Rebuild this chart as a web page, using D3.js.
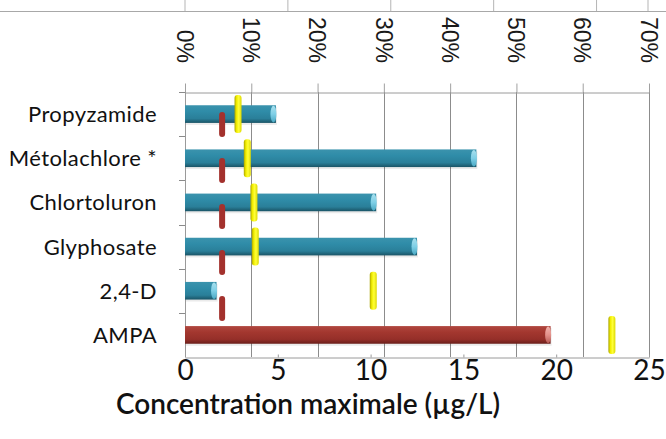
<!DOCTYPE html>
<html>
<head>
<meta charset="utf-8">
<script src="https://cdn.jsdelivr.net/npm/d3@7"></script>
<style>
  html, body { margin: 0; padding: 0; background: #fff; }
  svg { display: block; }
</style>
</head>
<body>
<svg id="chart" width="666" height="439"></svg>
<script>
// Pesticides: maximum concentration (µg/L, bottom axis) and percentage (top axis)
const categories = ["Propyzamide", "Métolachlore *", "Chlortoluron", "Glyphosate", "2,4-D", "AMPA"];
const concMax = [4.9, 15.7, 10.3, 12.5, 1.7, 19.7];
const kinds = ["molecule", "molecule", "molecule", "molecule", "molecule", "metabolite"];
const percent = [8.0, 9.4, 10.4, 10.6, 28.4, 64.4];
const limitValue = 2;
const concTicks = [0, 5, 10, 15, 20, 25];
const percentTicks = [0, 10, 20, 30, 40, 50, 60, 70];

const svg = d3.select("#chart");
const W = 666, H = 439;
const plot = { left: 185, right: 649, top: 92, bottom: 357 };

const x = d3.scaleLinear().domain([0, 25]).range([plot.left, plot.right]);
const xp = d3.scaleLinear().domain([0, 70]).range([plot.left, plot.right]);
const y = d3.scaleBand().domain(categories).range([plot.top, plot.bottom]);
const barH = y.bandwidth() * 0.4;
const mid = c => y(c) + y.bandwidth() / 2;

// gradients
const defs = svg.append("defs");
function vGrad(id, stops) {
  const g = defs.append("linearGradient").attr("id", id)
    .attr("x1", 0).attr("y1", 0).attr("x2", 0).attr("y2", 1);
  stops.forEach(([o, c]) => g.append("stop").attr("offset", o).attr("stop-color", c));
}
function hGrad(id, stops) {
  const g = defs.append("linearGradient").attr("id", id)
    .attr("x1", 0).attr("y1", 0).attr("x2", 1).attr("y2", 0);
  stops.forEach(([o, c]) => g.append("stop").attr("offset", o).attr("stop-color", c));
}
vGrad("tealBody", [[0, "#3b93ad"], [0.35, "#2f8ca8"], [0.75, "#2a7f99"], [1, "#1a5466"]]);
vGrad("tealCap", [[0, "#a8e0ee"], [0.5, "#7fcfe6"], [1, "#4aa9c4"]]);
vGrad("redBody", [[0, "#b0473f"], [0.35, "#a3372f"], [0.75, "#952f29"], [1, "#6a1e1a"]]);
vGrad("redCap", [[0, "#f2b3ad"], [0.5, "#e3918b"], [1, "#b85a54"]]);
hGrad("yellowMark", [[0, "#a9a400"], [0.3, "#f2ee00"], [0.6, "#ffff3a"], [1, "#dcd800"]]);

// fragment of frame at the top edge
const frag = d3.scaleLinear().domain([0, 4.5]).range([plot.left, 648]);
svg.append("line").attr("x1", 0).attr("x2", W).attr("y1", 11.5).attr("y2", 11.5)
  .attr("stroke", "#a8a8a8").attr("stroke-width", 1.2);
svg.append("g").selectAll("line").data([0, 1, 2, 3, 4, 4.5]).join("line")
  .attr("x1", d => frag(d)).attr("x2", d => frag(d)).attr("y1", 0).attr("y2", 11)
  .attr("stroke", "#b5b5b5");

// vertical grid lines on the percentage scale
svg.append("g").selectAll("line").data(percentTicks.slice(1)).join("line")
  .attr("x1", d => Math.round(xp(d)) + 0.5).attr("x2", d => Math.round(xp(d)) + 0.5)
  .attr("y1", plot.top).attr("y2", plot.bottom)
  .attr("stroke", "#8c8c8c").attr("stroke-width", 1);

// top axis (percent)
const topAxis = svg.append("g").attr("transform", `translate(0,${plot.top + 0.5})`)
  .call(d3.axisTop(xp).tickValues(percentTicks).tickSize(9).tickSizeOuter(0).tickFormat(""));
topAxis.select(".domain").attr("stroke", "#9a9a9a");
topAxis.selectAll(".tick line").attr("stroke", "#a0a0a0");

svg.append("g").selectAll("text").data(percentTicks).join("text")
  .attr("transform", d => `translate(${xp(d)},63) rotate(90)`)
  .attr("text-anchor", "end").attr("dy", "0.36em")
  .attr("font-family", "'Liberation Sans', Arial, sans-serif")
  .attr("font-size", 23).attr("fill", "#1a1a1a")
  .text(d => d + "%");

// left axis with ticks between categories
svg.append("line").attr("x1", plot.left + 0.5).attr("x2", plot.left + 0.5)
  .attr("y1", plot.top).attr("y2", plot.bottom).attr("stroke", "#9a9a9a");
svg.append("g").selectAll("line").data(categories).join("line")
  .attr("x1", plot.left - 6).attr("x2", plot.left)
  .attr("y1", d => Math.round(y(d)) + 0.5).attr("y2", d => Math.round(y(d)) + 0.5)
  .attr("stroke", "#8a8a8a");

// bottom axis (concentration)
const botAxis = svg.append("g").attr("transform", `translate(0,${plot.bottom + 0.5})`)
  .call(d3.axisBottom(x).tickValues(concTicks).tickSize(-3).tickSizeOuter(0).tickPadding(3));
botAxis.select(".domain").attr("stroke", "#9a9a9a");
botAxis.selectAll(".tick line").attr("stroke", "#9a9a9a");
botAxis.selectAll(".tick text")
  .attr("font-family", "Lato, 'Open Sans', sans-serif")
  .attr("font-size", 28).attr("fill", "#111").attr("dy", "0.62em").attr("y", 5);

// category labels
svg.append("g").selectAll("text").data(categories).join("text")
  .attr("x", 157).attr("y", d => mid(d)).attr("dy", "0.36em")
  .attr("text-anchor", "end")
  .attr("font-family", "Lato, 'Open Sans', sans-serif")
  .attr("font-size", 22).attr("letter-spacing", 0.4).attr("fill", "#111")
  .text(d => d);

// bars (cylinder look)
const rows = categories.map((c, i) => ({ c, v: concMax[i], k: kinds[i], p: percent[i] }));
const bars = svg.append("g").selectAll("g").data(rows).join("g");
bars.append("rect")
  .attr("x", x(0) + 1).attr("y", d => mid(d.c) - barH / 2 + 2)
  .attr("width", d => x(d.v) - x(0)).attr("height", barH)
  .attr("fill", "#000").attr("opacity", 0.08);
bars.append("rect")
  .attr("x", x(0)).attr("y", d => mid(d.c) - barH / 2)
  .attr("width", d => x(d.v) - x(0)).attr("height", barH)
  .attr("fill", d => d.k === "metabolite" ? "url(#redBody)" : "url(#tealBody)");
bars.append("ellipse")
  .attr("cx", d => x(d.v) - 2.5).attr("cy", d => mid(d.c))
  .attr("rx", 3).attr("ry", barH / 2 - 0.5)
  .attr("fill", d => d.k === "metabolite" ? "url(#redCap)" : "url(#tealCap)");

// limit value line (dashed)
const firstMid = mid(categories[0]), lastMid = mid(categories[categories.length - 1]);
svg.append("line")
  .attr("x1", x(limitValue)).attr("x2", x(limitValue))
  .attr("y1", firstMid + 1).attr("y2", lastMid)
  .attr("stroke", "#a3312d").attr("stroke-width", 6)
  .attr("stroke-linecap", "round").attr("stroke-dasharray", "19 27");

// percentage markers
svg.append("g").selectAll("rect").data(rows).join("rect")
  .attr("x", d => xp(d.p) - 3.5).attr("y", d => mid(d.c) - 19)
  .attr("width", 7).attr("height", 38).attr("rx", 3)
  .attr("fill", "url(#yellowMark)");

// axis title
svg.append("text")
  .attr("x", 308).attr("y", 414).attr("text-anchor", "middle")
  .attr("font-family", "Lato, 'Open Sans', sans-serif")
  .attr("font-weight", 600).attr("font-size", 28).attr("fill", "#111")
  .text("Concentration maximale (µg/L)");
</script>
</body>
</html>
